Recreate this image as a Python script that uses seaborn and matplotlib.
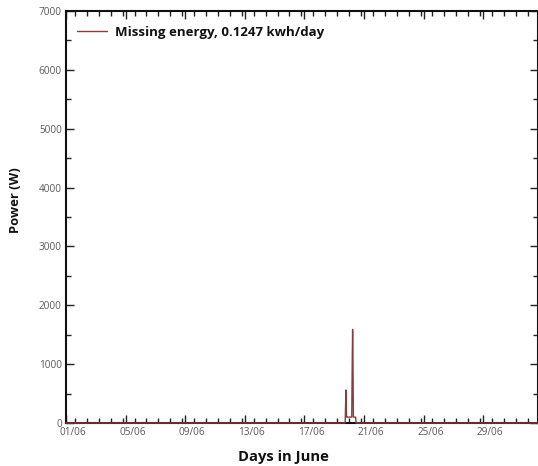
import matplotlib
matplotlib.use("Agg")
import matplotlib.pyplot as plt
import matplotlib.transforms as mtransforms
from matplotlib.ticker import MultipleLocator, FixedLocator
import seaborn as sns
import pandas as pd

# Missing power profile over June (day of month, watts)
day = [1.0, 19.74, 19.79, 19.83, 19.87, 20.18, 20.22, 20.24, 20.26, 20.29, 20.44, 20.47, 32.7]
power = [0, 0, 560, 100, 100, 100, 1200, 1590, 1200, 100, 100, 0, 0]

tick_days = [1, 5, 9, 13, 17, 21, 25, 29]
tick_labels = ["01/06", "05/06", "09/06", "13/06", "17/06", "21/06", "25/06", "29/06"]
legend_label = "Missing energy, 0.1247 kwh/day"

df = pd.DataFrame({"day": day, "power": power})

sns.set_style("ticks")
plt.rcParams["font.family"] = ["Open Sans", "DejaVu Sans"]

fig = plt.figure(figsize=(5.38, 4.66), dpi=100)
ax = fig.add_axes([66 / 538, 43 / 466, 471.5 / 538, 412 / 466])

sns.lineplot(data=df, x="day", y="power", ax=ax, color="#8c3b3b",
             linewidth=1.0, label=legend_label, zorder=5)
for ln in ax.lines:
    ln.set_clip_on(False)

ax.set_xlim(1, 32.65)
ax.set_ylim(0, 7000)

ax.xaxis.set_major_locator(FixedLocator(tick_days))
ax.set_xticklabels(tick_labels)
ax.xaxis.set_minor_locator(MultipleLocator(0.8))
ax.yaxis.set_major_locator(MultipleLocator(1000))
ax.yaxis.set_minor_locator(MultipleLocator(500))

ax.tick_params(which="both", direction="in", top=True, right=True,
               colors="#222222", labelcolor="#5a5a5a", labelsize=7.2, width=1.0)
ax.tick_params(which="major", length=6, pad=3)
ax.tick_params(which="minor", length=3.5)

offset = mtransforms.ScaledTranslation(7 / 100, 0, fig.dpi_scale_trans)
for lbl in ax.get_xticklabels():
    lbl.set_transform(lbl.get_transform() + offset)

for sp in ax.spines.values():
    sp.set_linewidth(1.5)
    sp.set_color("#111111")

ax.set_xlabel("Days in June", fontsize=10.6, fontweight="bold", color="#111111")
ax.set_ylabel("Power (W)", fontsize=9.4, fontweight="bold", color="#111111")
ax.xaxis.set_label_coords((283 - 66) / 471.5, -(450 - 423) / 412, transform=ax.transAxes)
ax.yaxis.set_label_coords(-(66 - 22) / 471.5, (423 - 200) / 412, transform=ax.transAxes)

leg = ax.legend(loc="upper left", frameon=False, fontsize=9.5,
                handlelength=2.3, handletextpad=0.6,
                bbox_to_anchor=(0.0, 0.99), borderaxespad=0.4)
for t in leg.get_texts():
    t.set_fontweight("bold")
    t.set_color("#111111")

fig.savefig("out.png", dpi=100)
